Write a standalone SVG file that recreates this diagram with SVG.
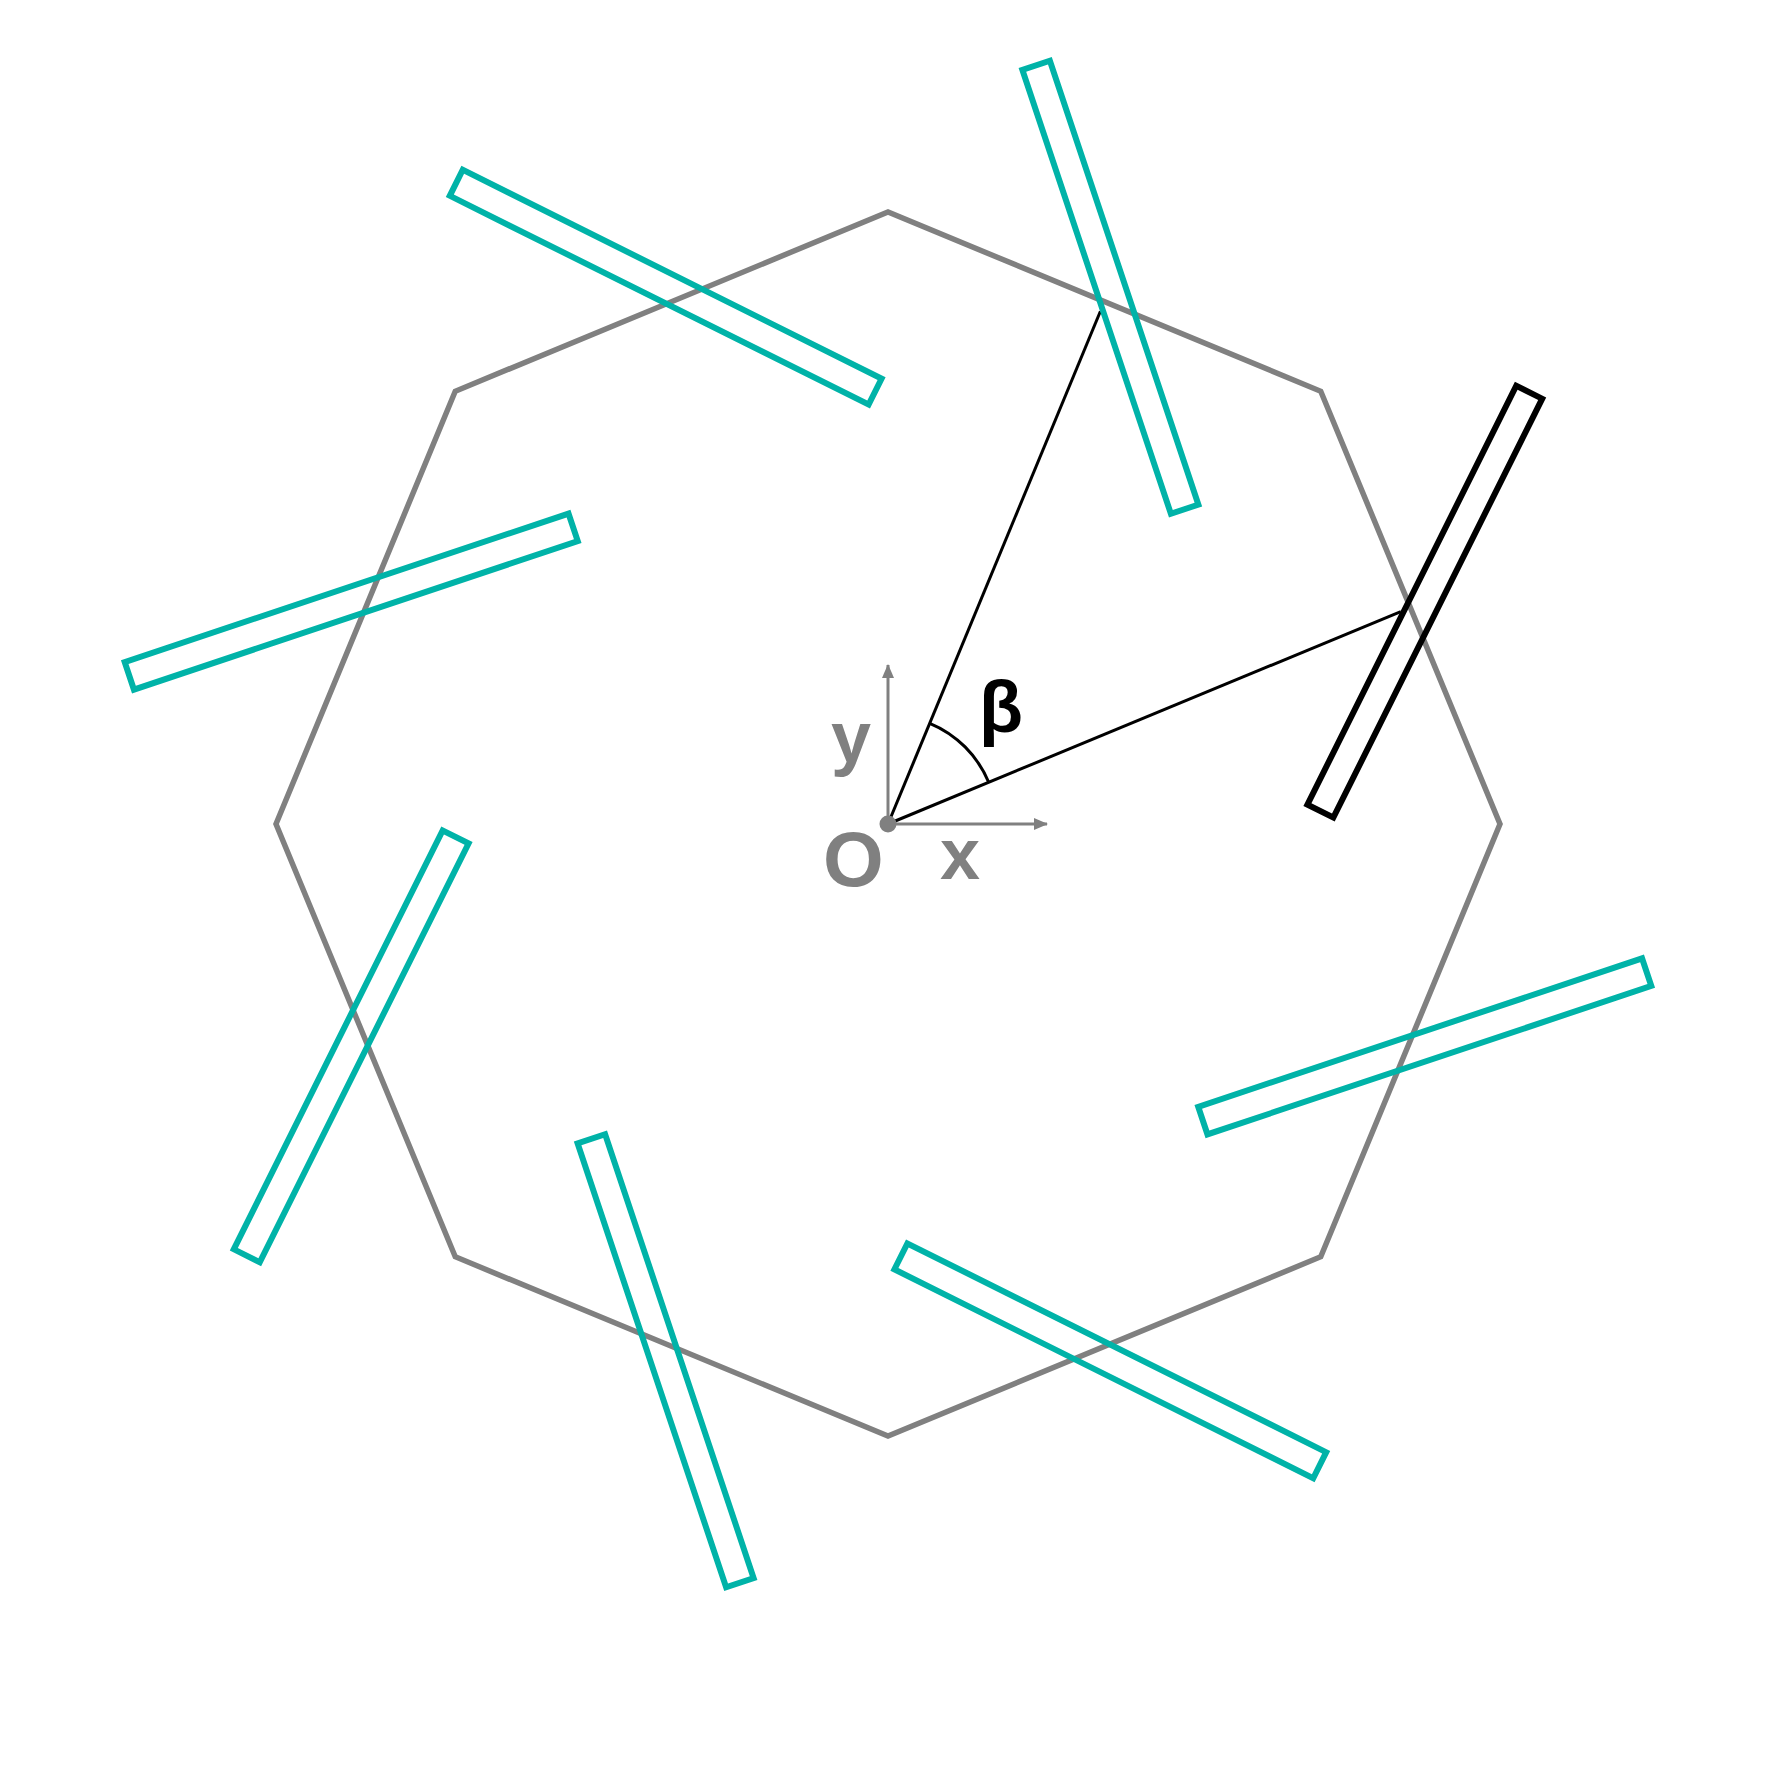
<svg xmlns="http://www.w3.org/2000/svg" width="1776" height="1773" viewBox="0 0 1776 1773">
<style>
.oct{fill:none;stroke:#808080;stroke-width:5.5;stroke-linejoin:miter}
.bar{fill:none;stroke-width:6}
.teal{stroke:#00b3a8}
.blk{stroke:#000}
.axis{stroke:#808080;stroke-width:3;fill:none}
.ray{stroke:#000;stroke-width:3;fill:none}
.lbl{font-family:"Liberation Sans",Arial,sans-serif;font-weight:bold;font-size:72px}
</style>
<defs>
<rect id="bar" x="-234" y="-14.5" width="468" height="29"/>
<marker id="arr" viewBox="0 0 14 12" refX="13" refY="6" markerWidth="14" markerHeight="12" markerUnits="userSpaceOnUse" orient="auto">
<path d="M0,0 L14,6 L0,12 Z" fill="#808080"/>
</marker>
</defs>
<rect width="1776" height="1773" fill="#fff"/>
<g id="octagon">
<polygon class="oct" points="1500,824 1320.75,391.25 888,212 455.25,391.25 276,824 455.25,1256.75 888,1436 1320.75,1256.75"/>
</g>
<g id="connectors">
<line class="axis" x1="888" y1="824" x2="888" y2="665" marker-end="url(#arr)"/>
<line class="axis" x1="888" y1="824" x2="1047" y2="824" marker-end="url(#arr)"/>
<line class="ray" x1="888" y1="824" x2="1400.8" y2="611.6"/>
<line class="ray" x1="888" y1="824" x2="1100.4" y2="311.2"/>
<path class="ray" d="M988.7,782.3 A109,109 0 0 0 929.7,723.3"/>
</g>
<g id="bar-0"><use href="#bar" class="bar blk" transform="translate(1424.8 601.7) rotate(-63.5)"/></g>
<g id="bar-1"><use href="#bar" class="bar teal" transform="rotate(-45 888 824) translate(1424.8 601.7) rotate(-63.5)"/></g>
<g id="bar-2"><use href="#bar" class="bar teal" transform="rotate(-90 888 824) translate(1424.8 601.7) rotate(-63.5)"/></g>
<g id="bar-3"><use href="#bar" class="bar teal" transform="rotate(-135 888 824) translate(1424.8 601.7) rotate(-63.5)"/></g>
<g id="bar-4"><use href="#bar" class="bar teal" transform="rotate(-180 888 824) translate(1424.8 601.7) rotate(-63.5)"/></g>
<g id="bar-5"><use href="#bar" class="bar teal" transform="rotate(-225 888 824) translate(1424.8 601.7) rotate(-63.5)"/></g>
<g id="bar-6"><use href="#bar" class="bar teal" transform="rotate(-270 888 824) translate(1424.8 601.7) rotate(-63.5)"/></g>
<g id="bar-7"><use href="#bar" class="bar teal" transform="rotate(-315 888 824) translate(1424.8 601.7) rotate(-63.5)"/></g>
<g id="origin"><circle cx="888" cy="824" r="8.5" fill="#808080"/></g>
<g id="labels">
<text class="lbl" x="831" y="762" fill="#808080">y</text>
<text class="lbl" x="823" y="886" fill="#808080" style="font-size:78px">O</text>
<text class="lbl" x="940" y="879" fill="#808080">x</text>
<text class="lbl" x="979" y="732" fill="#000">β</text>
</g>
</svg>
